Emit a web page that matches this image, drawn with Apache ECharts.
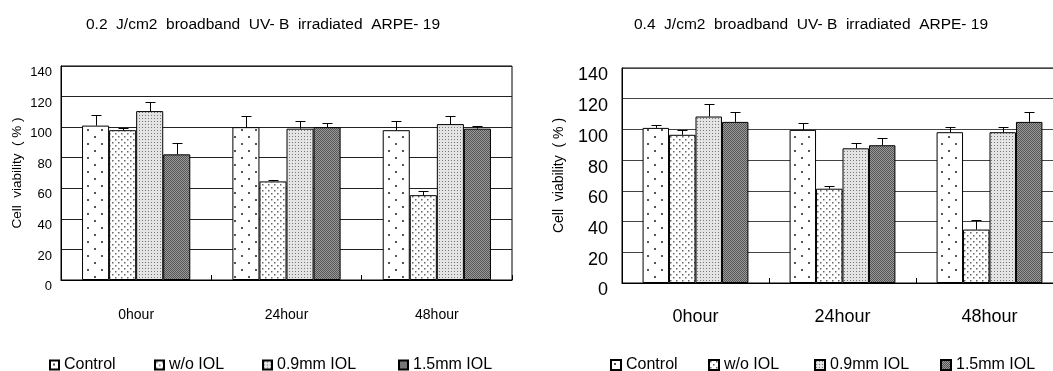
<!DOCTYPE html>
<html><head><meta charset="utf-8">
<script src="https://cdn.jsdelivr.net/npm/echarts@6/dist/echarts.min.js"></script>
<style>html,body{margin:0;padding:0;background:#fff;overflow:hidden}#c{width:1075px;height:371px}</style>
</head><body><div id="c"></div>
<script>
const categories = ['0hour', '24hour', '48hour'];
const seriesNames = ['Control', 'w/o IOL', '0.9mm IOL', '1.5mm IOL'];
const yTicks = [0, 20, 40, 60, 80, 100, 120, 140];
const titleLeft = '0.2  J/cm2  broadband  UV- B  irradiated  ARPE- 19';
const titleRight = '0.4  J/cm2  broadband  UV- B  irradiated  ARPE- 19';
const yNameLeft = 'Cell  viability  ( % )';
const yNameRight = 'Cell  viability  ( % )';

// 0.2 J/cm2
const control02 = [101, 100, 98];
const control02Err = [6.8, 7, 5.7];
const woIOL02 = [98, 64.5, 55.5];
const woIOL02Err = [1.3, 1, 2.7];
const iol09_02 = [110.5, 99, 102];
const iol09_02Err = [6, 5, 5];
const iol15_02 = [82.2, 100, 99];
const iol15_02Err = [7.5, 3, 1.8];

// 0.4 J/cm2
const control04 = [101, 99.7, 98.2];
const control04Err = [2, 4.2, 3.7];
const woIOL04 = [96.5, 61.4, 34.8];
const woIOL04Err = [3.2, 1.7, 6.3];
const iol09_04 = [108.4, 87.7, 98.2];
const iol09_04Err = [7.9, 3.7, 3.7];
const iol15_04 = [104.9, 89.7, 104.9];
const iol15_04Err = [6.6, 4.6, 6.6];

function pattern(w, h, draw) {
  const c = document.createElement('canvas');
  c.width = w; c.height = h;
  const ctx = c.getContext('2d');
  draw(ctx);
  return { image: c, repeat: 'repeat' };
}
const patControl = pattern(14, 14, ctx => {
  ctx.fillStyle = '#fff'; ctx.fillRect(0, 0, 14, 14);
  ctx.fillStyle = '#555';
  ctx.fillRect(3, 3, 2, 2); ctx.fillRect(10, 10, 2, 2);
});
const patWo = pattern(6, 6, ctx => {
  ctx.fillStyle = '#fff'; ctx.fillRect(0, 0, 6, 6);
  ctx.fillStyle = '#666';
  ctx.fillRect(1, 1, 1.5, 1.5); ctx.fillRect(4, 4, 1.5, 1.5);
});
const pat09 = pattern(3, 3, ctx => {
  ctx.fillStyle = '#e4e4e4'; ctx.fillRect(0, 0, 3, 3);
  ctx.fillStyle = '#777';
  ctx.fillRect(1, 1, 1, 1);
});
const pat15 = pattern(2, 2, ctx => {
  ctx.fillStyle = '#9a9a9a'; ctx.fillRect(0, 0, 2, 2);
  ctx.fillStyle = '#555';
  ctx.fillRect(0, 0, 1, 1); ctx.fillRect(1, 1, 1, 1);
});
const patterns = [patControl, patWo, pat09, pat15];

const FONT2 = "'Liberation Sans', Arial, sans-serif";

const left = {
  vals: [control02, woIOL02, iol09_02, iol15_02],
  errs: [control02Err, woIOL02Err, iol09_02Err, iol15_02Err]
};
const right = {
  vals: [control04, woIOL04, iol09_04, iol15_04],
  errs: [control04Err, woIOL04Err, iol09_04Err, iol15_04Err]
};

const BAR_FR = 0.18;
function errSeries(gi, si, vals, errs) {
  return {
    type: 'custom', xAxisIndex: gi, yAxisIndex: gi, z: 5, silent: true,
    data: categories.map((c, k) => [k, vals[k], vals[k] + errs[k]]),
    renderItem: function (params, api) {
      const cw = api.size([1, 0])[0];
      const bw = cw * BAR_FR;
      const p0 = api.coord([api.value(0), api.value(1)]);
      const p1 = api.coord([api.value(0), api.value(2)]);
      const x = Math.round(p0[0] + (si - 1.5) * bw) + 0.5;
      const yt = Math.round(p1[1]) + 0.5;
      return {
        type: 'group', children: [
          { type: 'line', shape: { x1: x, y1: p0[1], x2: x, y2: yt }, style: { stroke: '#000', lineWidth: 1 } },
          { type: 'line', shape: { x1: x - 5, y1: yt, x2: x + 5, y2: yt }, style: { stroke: '#000', lineWidth: 1 } }
        ]
      };
    }
  };
}

const series = [];
[left, right].forEach((d, gi) => {
  seriesNames.forEach((n, si) => {
    series.push({
      type: 'bar', name: n, xAxisIndex: gi, yAxisIndex: gi,
      data: d.vals[si], barWidth: (BAR_FR * 100) + '%', barGap: '0%',
      itemStyle: { color: patterns[si], borderColor: '#000', borderWidth: 1 },
      emphasis: { disabled: true }
    });
  });
});
[left, right].forEach((d, gi) => {
  seriesNames.forEach((n, si) => series.push(errSeries(gi, si, d.vals[si], d.errs[si])));
});

function yAxis(gi, fs, margin, lh, name, nameFs, nameGap, gridColor) {
  return {
    type: 'value', gridIndex: gi, min: 0, max: 140, interval: 20,
    axisLine: { show: true, lineStyle: { color: '#000', width: 1 } },
    axisTick: { show: false },
    splitLine: { show: true, lineStyle: { color: gridColor, width: 1 } },
    axisLabel: { color: '#000', fontSize: fs, fontFamily: FONT2, margin: margin, verticalAlign: 'top', lineHeight: lh,
      formatter: v => yTicks.indexOf(v) >= 0 ? String(v) : '' },
    name: name, nameLocation: 'middle', nameGap: nameGap,
    nameTextStyle: { color: '#000', fontSize: nameFs, fontFamily: FONT2 }
  };
}
function xAxis(gi, fs, margin) {
  return {
    type: 'category', gridIndex: gi, data: categories,
    axisLine: { show: true, lineStyle: { color: '#000', width: 1 } },
    axisTick: { show: true, inside: true, length: 5, lineStyle: { color: '#000' } },
    axisLabel: { color: '#000', fontSize: fs, fontFamily: FONT2, margin: margin }
  };
}

const legLeftX = [49, 154, 262, 398];
const legRightX = [610, 708, 814, 940];
const legends = [];
seriesNames.forEach((n, i) => {
  legends.push({ data: [n], left: legLeftX[i] - 5, top: 352, itemWidth: 9, itemHeight: 9, itemGap: 6,
    icon: 'rect', selectedMode: false, textStyle: { fontSize: 16, color: '#000', fontFamily: FONT2 } });
});
seriesNames.forEach((n, i) => {
  legends.push({ data: [n], left: legRightX[i] - 5, top: 352, itemWidth: 10, itemHeight: 10, itemGap: 5,
    icon: 'rect', selectedMode: false, textStyle: { fontSize: 16, color: '#000', fontFamily: FONT2 } });
});

const option = {
  animation: false,
  backgroundColor: '#fff',
  title: [
    { text: titleLeft, left: 258, textAlign: 'center', top: 12, textStyle: { fontSize: 15.5, fontWeight: 'normal', color: '#000', fontFamily: FONT2 } },
    { text: titleRight, left: 806, textAlign: 'center', top: 12, textStyle: { fontSize: 15.5, fontWeight: 'normal', color: '#000', fontFamily: FONT2 } }
  ],
  grid: [
    { left: 61, top: 66, width: 451, height: 214, show: true, borderColor: '#000', borderWidth: 1, containLabel: false },
    { left: 622, top: 68, width: 441, height: 215, show: true, borderColor: '#000', borderWidth: 1, containLabel: false }
  ],
  xAxis: [xAxis(0, 14, 28), xAxis(1, 18, 25)],
  yAxis: [yAxis(0, 13, 9, 13, yNameLeft, 13.5, 37, '#222'), yAxis(1, 18, 14, 15, yNameRight, 14, 56, '#444')],
  legend: legends,
  series: series
};
const chart = echarts.init(document.getElementById('c'), null, { renderer: 'canvas' });
chart.setOption(option);
</script></body></html>
